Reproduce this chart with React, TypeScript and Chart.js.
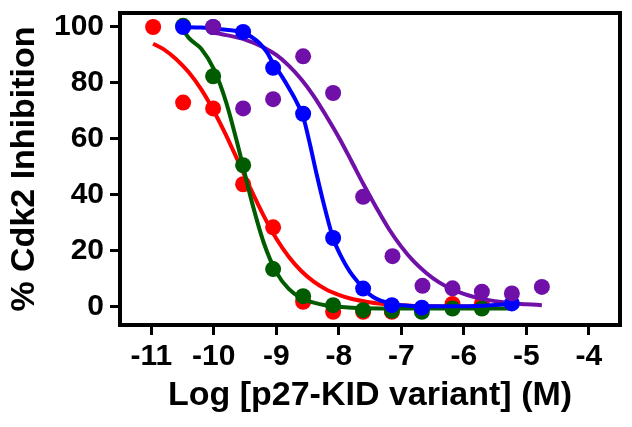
import React, { useEffect, useRef } from "react";
import { Chart, registerables } from "chart.js";

Chart.register(...registerables);

// Tick labels
const xTicks = [-11, -10, -9, -8, -7, -6, -5, -4];
const yTicks = [0, 20, 40, 60, 80, 100];

// Measured points (log M, % inhibition)
const redX = [-10.97, -10.49, -10.01, -9.53, -9.05, -8.57, -8.09, -7.61, -7.15, -6.18, -5.71];
const redY = [100, 73, 70.9, 43.8, 28.4, 1.8, -1.8, -1.8, -1.8, 1.0, 1.2];

const greenX = [-10.49, -10.01, -9.53, -9.05, -8.57, -8.09, -7.61, -7.15, -6.67, -6.18, -5.71];
const greenY = [100.4, 82.4, 50.6, 13.5, 3.8, 0.6, -1.2, -1.4, -1.8, -0.6, -0.6];

const blueX = [-10.49, -10.01, -9.53, -9.05, -8.57, -8.09, -7.61, -7.15, -6.67, -5.23];
const blueY = [100, 100, 98.2, 85.4, 69, 24.6, 6.5, 0.6, -0.3, 1.2];

const purpleX = [-10.01, -9.53, -9.05, -8.57, -8.09, -7.61, -7.14, -6.66, -6.18, -5.71, -5.23, -4.75];
const purpleY = [100, 70.9, 74.2, 89.5, 76.4, 39.3, 18.1, 7.5, 6.6, 5.4, 4.8, 7.1];

// Fitted curves
const redCurveX = [-10.97, -10.8, -10.6, -10.4, -10.2, -10.0, -9.8, -9.6, -9.4, -9.2, -9.0, -8.8, -8.6, -8.4, -8.2, -8.0, -7.8, -7.6, -7.4, -7.0, -6.5, -6.0, -5.7];
const redCurveY = [94, 92, 88.5, 83.8, 77.7, 70, 61.2, 51.5, 41.7, 32.5, 24.4, 17.9, 12.8, 9, 6.2, 4.3, 2.9, 2, 1.3, 0.6, 0.2, 0.1, 0];

const greenCurveX = [-10.49, -10.4, -10.2, -10.0, -9.8, -9.6, -9.4, -9.2, -9.0, -8.8, -8.6, -8.4, -8.2, -8.0, -7.6, -7.0, -6.5, -6.0, -5.2];
const greenCurveY = [99, 96.1, 92.2, 85, 73, 56.4, 38.3, 22.9, 12.4, 6.4, 3.1, 1.5, 0.5, 0, -0.5, -0.6, -0.6, -0.6, -0.6];

const blueCurveX = [-10.49, -10.2, -10.0, -9.8, -9.53, -9.4, -9.26, -9.15, -9.05, -8.9, -8.78, -8.67, -8.57, -8.46, -8.35, -8.22, -8.09, -7.95, -7.82, -7.7, -7.61, -7.45, -7.3, -7.15, -6.9, -6.67, -6.2, -5.7, -5.23];
const blueCurveY = [100, 99.8, 99.5, 99, 98, 96.5, 94, 91, 87, 82, 77.5, 73, 68, 58, 47, 35, 24.5, 17.5, 12.5, 9, 6.5, 3.5, 2, 1, 0.4, 0.2, 0.2, 0.4, 1];

const purpleCurveX = [-10.06, -9.8, -9.5, -9.2, -9.0, -8.8, -8.6, -8.4, -8.2, -8.0, -7.8, -7.6, -7.4, -7.2, -7.0, -6.8, -6.6, -6.4, -6.2, -6.0, -5.8, -5.6, -5.4, -5.2, -5.0, -4.75];
const purpleCurveY = [98.2, 97.1, 95.5, 92.7, 90, 86.2, 81.3, 75.3, 68.2, 60.6, 52.2, 43.6, 35.5, 27.9, 21.5, 16.2, 12.1, 8.8, 6.4, 4.6, 3.3, 2.4, 1.7, 1.2, 0.9, 0.6];

const RED = "#ff0000";
const GREEN = "#005c00";
const BLUE = "#0000ff";
const PURPLE = "#7010a8";

const FONT = "'Liberation Sans', Arial, Helvetica, sans-serif";

const toPts = (xs: number[], ys: number[]) => xs.map((x, i) => ({ x, y: ys[i] }));

const curve = (xs: number[], ys: number[], color: string, order: number) => ({
  data: toPts(xs, ys),
  showLine: true,
  borderColor: color,
  backgroundColor: color,
  borderWidth: 4,
  pointRadius: 0,
  pointHoverRadius: 0,
  cubicInterpolationMode: "monotone" as const,
  order,
});

const points = (xs: number[], ys: number[], color: string, order: number) => ({
  data: toPts(xs, ys),
  showLine: false,
  borderColor: color,
  backgroundColor: color,
  borderWidth: 0,
  pointRadius: 8,
  pointHoverRadius: 8,
  order,
});

const framePlugin = {
  id: "frame",
  beforeDatasetsDraw(chart: any) {
    const { ctx, chartArea } = chart;
    ctx.save();
    ctx.strokeStyle = "#000";
    ctx.lineWidth = 4;
    ctx.lineJoin = "miter";
    ctx.strokeRect(chartArea.left, chartArea.top, chartArea.right - chartArea.left, chartArea.bottom - chartArea.top);
    ctx.restore();
  },
};

export default function App() {
  const ref = useRef<HTMLCanvasElement | null>(null);

  useEffect(() => {
    if (!ref.current) return;
    const chart = new Chart(ref.current, {
      type: "scatter",
      data: {
        datasets: [
          points(purpleX, purpleY, PURPLE, 0),
          points(blueX, blueY, BLUE, 1),
          curve(blueCurveX, blueCurveY, BLUE, 2),
          curve(purpleCurveX, purpleCurveY, PURPLE, 3),
          points(greenX, greenY, GREEN, 4),
          curve(greenCurveX, greenCurveY, GREEN, 5),
          points(redX, redY, RED, 6),
          curve(redCurveX, redCurveY, RED, 7),
        ] as any,
      },
      options: {
        animation: false,
        responsive: true,
        maintainAspectRatio: false,
        layout: { padding: { left: 0, top: 13, right: 12, bottom: 0 } },
        plugins: { legend: { display: false }, tooltip: { enabled: false } },
        events: [],
        scales: {
          x: {
            type: "linear",
            min: -11.5,
            max: -3.5,
            afterBuildTicks: (s: any) => {
              s.ticks = xTicks.map((v) => ({ value: v }));
            },
            afterFit: (s: any) => {
              s.height = 102;
              s.paddingLeft = 0;
              s.paddingRight = 0;
            },
            border: { display: false },
            grid: {
              drawOnChartArea: false,
              drawTicks: true,
              tickLength: 10,
              tickWidth: 3,
              tickColor: "#000",
              color: "#000",
            },
            ticks: {
              color: "#000",
              padding: 4,
              maxRotation: 0,
              autoSkip: false,
              font: { family: FONT, size: 30, weight: "bold", lineHeight: 1.2 },
              callback: (v: any) => String(v),
            },
            title: {
              display: true,
              text: "Log [p27-KID variant] (M)",
              color: "#000",
              padding: { top: 0, bottom: 11 },
              font: { family: FONT, size: 34, weight: "bold", lineHeight: 1.2 },
            },
          },
          y: {
            type: "linear",
            min: -6.5,
            max: 105,
            afterBuildTicks: (s: any) => {
              s.ticks = yTicks.map((v) => ({ value: v }));
            },
            afterFit: (s: any) => {
              s.width = 120;
              s.paddingTop = 0;
              s.paddingBottom = 0;
            },
            border: { display: false },
            grid: {
              drawOnChartArea: false,
              drawTicks: true,
              tickLength: 10,
              tickWidth: 3,
              tickColor: "#000",
              color: "#000",
            },
            ticks: {
              color: "#000",
              padding: 6,
              font: { family: FONT, size: 30, weight: "bold", lineHeight: 1.2 },
              callback: (v: any) => String(v),
            },
            title: {
              display: true,
              text: "% Cdk2 Inhibition",
              color: "#000",
              padding: { top: 4, bottom: 0 },
              font: { family: FONT, size: 34, weight: "bold", lineHeight: 1.2 },
            },
          },
        },
      },
      plugins: [framePlugin],
    });
    return () => chart.destroy();
  }, []);

  return (
    <div style={{ position: "fixed", left: 0, top: 0, width: 632, height: 427, background: "#fff" }}>
      <canvas ref={ref} style={{ display: "block" }} />
    </div>
  );
}
